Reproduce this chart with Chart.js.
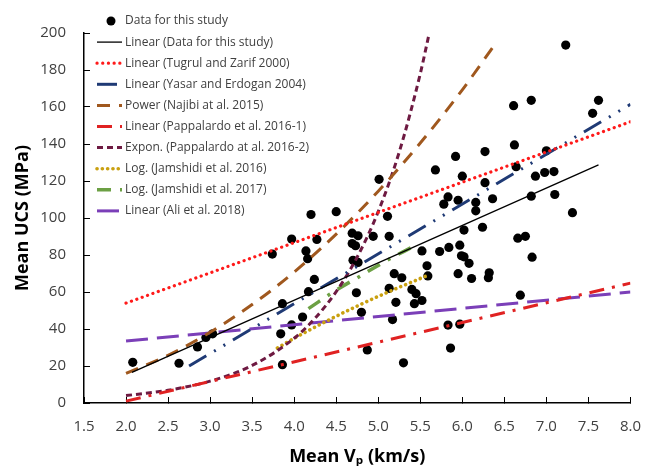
<!DOCTYPE html>
<html>
<head>
<meta charset="utf-8">
<script src="https://cdn.jsdelivr.net/npm/chart.js@4.4.0/dist/chart.umd.min.js"></script>
<style>
  html, body { margin: 0; padding: 0; background: #fff; }
  #wrap { width: 662px; height: 474px; }
</style>
</head>
<body>
<div id="wrap"><canvas id="chart" width="662" height="474"></canvas></div>
<script>
// measured points (Vp km/s, UCS MPa)
const studyVp = [2.08, 2.63, 2.85, 2.95, 3.03, 3.74, 3.86, 3.84, 3.86, 3.97, 3.97, 4.10, 4.14, 4.16, 4.17,
  4.20, 4.24, 4.27, 4.50, 4.69, 4.76, 4.69, 4.73, 4.70, 4.76, 4.74, 4.80, 4.87, 4.94, 5.01,
  5.11, 5.13, 5.13, 5.17, 5.19, 5.21, 5.28, 5.30, 5.40, 5.45, 5.43, 5.52, 5.52, 5.58, 5.59,
  5.68, 5.73, 5.78, 5.83, 5.84, 5.83, 5.86, 5.92, 5.95, 5.97, 5.95, 5.97, 5.99, 6.02, 6.00,
  6.02, 6.08, 6.11, 6.16, 6.16, 6.24, 6.27, 6.27, 6.32, 6.31, 6.36, 6.61, 6.62, 6.64, 6.66,
  6.69, 6.75, 6.82, 6.82, 6.83, 6.87, 6.98, 7.00, 7.09, 7.10, 7.23, 7.31, 7.55, 7.62];
const studyUcs = [22.0, 21.5, 30.3, 35.4, 37.4, 80.5, 53.7, 37.4, 20.7, 88.6, 42.2, 46.5, 82.2, 78.0, 60.2,
  101.9, 66.8, 88.4, 103.4, 91.8, 90.4, 86.2, 85.0, 77.1, 76.0, 59.6, 49.0, 28.7, 90.1, 120.9,
  100.9, 90.1, 62.0, 45.1, 69.9, 54.4, 67.7, 21.7, 61.4, 59.1, 53.7, 55.4, 82.2, 74.2, 68.7,
  126.0, 81.9, 107.5, 111.4, 84.1, 42.1, 29.7, 133.3, 109.6, 85.3, 69.9, 42.6, 79.6, 79.0, 122.6,
  93.5, 75.5, 67.3, 108.4, 103.9, 95.0, 135.9, 119.1, 70.4, 67.7, 110.4, 160.7, 139.5, 127.7, 89.1,
  58.3, 90.1, 163.6, 111.8, 78.8, 122.6, 124.6, 136.3, 125.1, 112.7, 193.5, 102.9, 156.6, 163.6];

// correlation curves
const fitStudyX = [2.07, 7.62];
const fitStudyY = [16.6, 128.7];
const tugrulX = [2.0, 8.0];
const tugrulY = [54.0, 152.0];
const yasarX = [2.75, 8.0];
const yasarY = [20.0, 161.4];
const najibiX = [2.0, 2.5, 3.0, 3.5, 4.0, 4.5, 5.0, 5.5, 6.0, 6.39];
const najibiY = [16.0, 25.8, 38.2, 53.2, 70.8, 91.3, 114.5, 140.5, 169.3, 194.0];
const pap1X = [2.0, 8.0];
const pap1Y = [1.0, 64.8];
const pap2X = [2.0, 2.5, 3.0, 3.5, 4.0, 4.25, 4.5, 4.75, 5.0, 5.25, 5.5, 5.6];
const pap2Y = [4.0, 6.9, 11.8, 20.3, 35.0, 45.9, 60.2, 78.9, 103.5, 135.7, 178.0, 198.5];
const jam16X = [3.8, 4.0, 4.4, 4.8, 5.2, 5.59];
const jam16Y = [29.7, 35.0, 44.6, 53.5, 61.6, 69.0];
const jam17X = [4.17, 4.5, 4.8, 5.1, 5.41];
const jam17Y = [51.0, 61.0, 69.0, 77.0, 84.4];
const aliX = [2.0, 8.0];
const aliY = [33.5, 60.0];

const FONT = "'Open Sans', 'DejaVu Sans', sans-serif";

function pts(xs, ys) {
  return xs.map((x, i) => ({ x: x, y: ys[i] }));
}

function curve(label, xs, ys, color, width, dash, extra) {
  return Object.assign({
    label: label,
    data: pts(xs, ys),
    showLine: true,
    borderColor: color,
    backgroundColor: color,
    borderWidth: width,
    borderDash: dash,
    pointRadius: 0,
    pointHoverRadius: 0,
    order: 0
  }, extra || {});
}

const smooth = { cubicInterpolationMode: 'monotone' };
const dots = { borderCapStyle: 'round' };

// legend drawn inside the plot, top left
const insideLegend = {
  id: 'insideLegend',
  afterDraw(chart) {
    const ctx = chart.ctx;
    const x0 = 97, y0 = 21, rowH = 21.1, sw = 25;
    ctx.save();
    ctx.font = '12px ' + FONT;
    ctx.textBaseline = 'middle';
    chart.data.datasets.forEach((ds, i) => {
      const y = y0 + i * rowH;
      if (ds.showLine) {
        ctx.strokeStyle = ds.borderColor;
        ctx.lineWidth = ds.borderWidth;
        ctx.lineCap = ds.borderCapStyle || 'butt';
        ctx.setLineDash(ds.borderDash || []);
        ctx.beginPath();
        ctx.moveTo(x0, y);
        ctx.lineTo(x0 + sw, y);
        ctx.stroke();
      } else {
        ctx.fillStyle = ds.backgroundColor;
        ctx.beginPath();
        ctx.arc(x0 + 14, y, 4.5, 0, Math.PI * 2);
        ctx.fill();
      }
      ctx.setLineDash([]);
      ctx.fillStyle = '#404040';
      ctx.fillText(ds.label, x0 + sw + 3, y);
    });
    ctx.restore();
  }
};

new Chart(document.getElementById('chart'), {
  type: 'scatter',
  data: {
    datasets: [
      {
        label: 'Data for this study',
        data: pts(studyVp, studyUcs),
        backgroundColor: '#000',
        borderColor: '#000',
        borderWidth: 0,
        pointRadius: 4.6,
        order: 10
      },
      curve('Linear (Data for this study)', fitStudyX, fitStudyY, '#000', 1.3, []),
      curve('Linear (Tugrul and Zarif 2000)', tugrulX, tugrulY, '#ff1a1a', 3.2, [0.1, 5.6], dots),
      curve('Linear (Yasar and Erdogan 2004)', yasarX, yasarY, '#1f3a75', 3, [20, 9, 2, 9, 2, 9]),
      curve('Power (Najibi at al. 2015)', najibiX, najibiY, '#a0581e', 3, [13, 9], smooth),
      curve('Linear (Pappalardo et al. 2016-1)', pap1X, pap1Y, '#e02222', 3, [15, 8, 3, 8]),
      curve('Expon. (Pappalardo at al. 2016-2)', pap2X, pap2Y, '#6e1a42', 3, [6, 4], smooth),
      curve('Log. (Jamshidi et al. 2016)', jam16X, jam16Y, '#c9a010', 3.6, [0.1, 5.2], Object.assign({}, smooth, dots)),
      curve('Log. (Jamshidi et al. 2017)', jam17X, jam17Y, '#6ca044', 3.5, [14, 9, 3, 9], smooth),
      curve('Linear (Ali et al. 2018)', aliX, aliY, '#7b3fb8', 3, [22, 9])
    ]
  },
  options: {
    responsive: false,
    animation: false,
    layout: { padding: { top: 13, right: 14, left: 0, bottom: 0 } },
    plugins: { legend: { display: false }, tooltip: { enabled: false } },
    scales: {
      x: {
        type: 'linear',
        min: 1.5,
        max: 8,
        ticks: { stepSize: 0.5, callback: v => v.toFixed(1), font: { family: FONT, size: 15 }, color: '#404040', padding: 21 },
        grid: { drawOnChartArea: false, drawTicks: true, tickLength: -6, color: '#000' },
        border: { color: '#000', width: 1.5 },
        title: { display: true, text: 'Mean Vₚ (km/s)', color: '#000', font: { family: FONT, size: 18, weight: 'bold' }, padding: { top: 0, bottom: 6 } },
        afterFit(s) { s.height = 71; }
      },
      y: {
        min: 0,
        max: 200,
        ticks: { stepSize: 20, font: { family: FONT, size: 15 }, color: '#404040', padding: 24 },
        grid: { drawOnChartArea: false, drawTicks: true, tickLength: -6, color: '#000' },
        border: { color: '#000', width: 1.5 },
        title: { display: true, text: 'Mean UCS (MPa)', color: '#000', font: { family: FONT, size: 18, weight: 'bold' }, padding: { top: 12, bottom: 0 } },
        afterFit(s) { s.width = 84; }
      }
    }
  },
  plugins: [insideLegend]
});
</script>
</body>
</html>
